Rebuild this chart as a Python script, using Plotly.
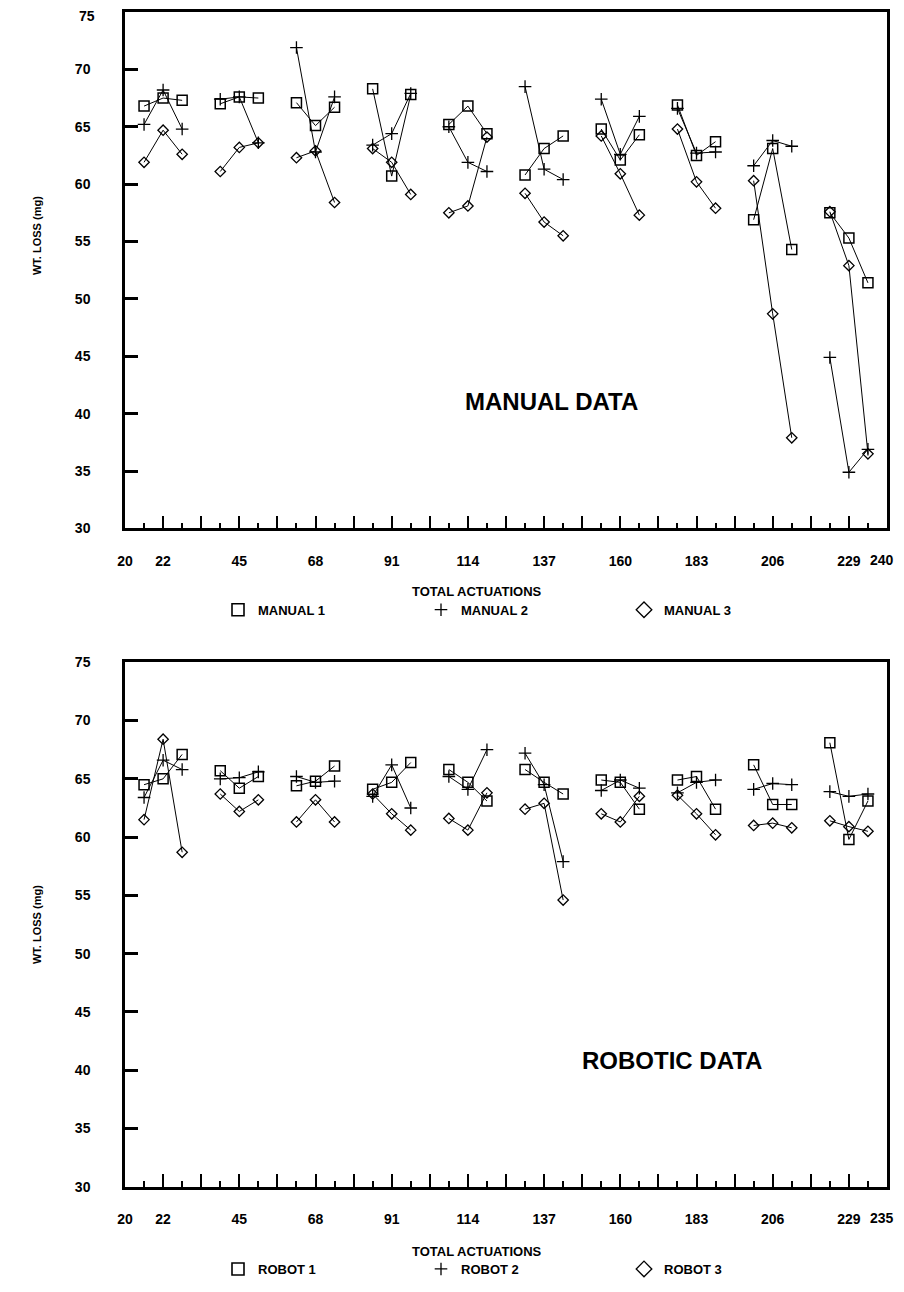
import plotly.graph_objects as go

# ---------------- data ----------------
GROUPS = [22, 45, 68, 91, 114, 137, 160, 183, 206, 229]
OFFSETS = [-5.75, 0, 5.75]

MANUAL_1 = [[66.8, 67.5, 67.3], [67.0, 67.6, 67.5], [67.1, 65.1, 66.7], [68.3, 60.7, 67.8],
            [65.2, 66.8, 64.4], [60.8, 63.1, 64.2], [64.8, 62.1, 64.3], [66.9, 62.5, 63.7],
            [56.9, 63.1, 54.3], [57.5, 55.3, 51.4]]
MANUAL_2 = [[65.2, 68.2, 64.8], [67.4, 67.6, 63.6], [71.9, 62.8, 67.6], [63.4, 64.4, 67.9],
            [65.0, 61.9, 61.1], [68.5, 61.3, 60.4], [67.4, 62.6, 65.9], [66.6, 62.7, 62.8],
            [61.6, 63.8, 63.3], [44.9, 34.9, 36.9]]
MANUAL_3 = [[61.9, 64.7, 62.6], [61.1, 63.2, 63.6], [62.3, 62.9, 58.4], [63.1, 61.9, 59.1],
            [57.5, 58.1, 64.1], [59.2, 56.7, 55.5], [64.2, 60.9, 57.3], [64.8, 60.2, 57.9],
            [60.3, 48.7, 37.9], [57.6, 52.9, 36.5]]

ROBOT_1 = [[64.5, 65.0, 67.1], [65.7, 64.2, 65.2], [64.4, 64.8, 66.1], [64.1, 64.7, 66.4],
           [65.8, 64.7, 63.1], [65.8, 64.7, 63.7], [64.9, 64.7, 62.4], [64.9, 65.2, 62.4],
           [66.2, 62.8, 62.8], [68.1, 59.8, 63.1]]
ROBOT_2 = [[63.4, 66.6, 65.8], [65.0, 65.1, 65.6], [65.2, 64.7, 64.8], [63.5, 66.2, 62.5],
           [65.2, 64.1, 67.5], [67.2, 64.5, 57.9], [64.0, 64.9, 64.2], [63.8, 64.7, 64.9],
           [64.1, 64.6, 64.5], [63.9, 63.5, 63.7]]
ROBOT_3 = [[61.5, 68.4, 58.7], [63.7, 62.2, 63.2], [61.3, 63.2, 61.3], [63.7, 62.0, 60.6],
           [61.6, 60.6, 63.8], [62.4, 62.9, 54.6], [62.0, 61.3, 63.5], [63.6, 62.0, 60.2],
           [61.0, 61.2, 60.8], [61.4, 60.9, 60.5]]

X_MIN, X_MAX = 10.5, 240.5
TOP_TICKTEXT = ["20"] + [str(g) for g in GROUPS] + ["240"]
BOT_TICKTEXT = ["20"] + [str(g) for g in GROUPS] + ["235"]
Y_TICKS = [30, 35, 40, 45, 50, 55, 60, 65, 70, 75]

# ---------------- geometry (page pixels; body margin of 8px) ----------------
BODY = 8
W, H = 904 - 2 * BODY, 1292 - 2 * BODY
PX_L, PX_R = 125, 887
TOP_T, TOP_B = 12, 533
BOT_T, BOT_B = 668, 1197


def px(x):
    return (x - BODY) / W


def py(y):
    return 1 - (y - BODY) / H


FONT = "Liberation Sans, Arial, Helvetica, sans-serif"


def series_xy(vals):
    xs, ys = [], []
    for g, trio in zip(GROUPS, vals):
        for o, v in zip(OFFSETS, trio):
            xs.append(g + o)
            ys.append(v)
        xs.append(None)
        ys.append(None)
    return xs, ys


STYLES = [
    dict(symbol="square-open", size=10, line=dict(width=1.5, color="black")),
    dict(symbol="cross-thin-open", size=9, line=dict(width=1.3, color="black")),
    dict(symbol="diamond-open", size=8, line=dict(width=1.3, color="black")),
]
LEG_STYLES = [
    dict(symbol="square-open", size=12, line=dict(width=1.6, color="black"), color="black"),
    dict(symbol="cross-thin-open", size=9, line=dict(width=1.3, color="black"), color="black"),
    dict(symbol="diamond-open", size=12, line=dict(width=1.3, color="black"), color="black"),
]

fig = go.Figure()

panels = [
    (["MANUAL 1", "MANUAL 2", "MANUAL 3"], [MANUAL_1, MANUAL_2, MANUAL_3], "x", "y", "legend"),
    (["ROBOT 1", "ROBOT 2", "ROBOT 3"], [ROBOT_1, ROBOT_2, ROBOT_3], "x2", "y2", "legend2"),
]
for names, sets, xa, ya, leg in panels:
    for name, vals, st, lst in zip(names, sets, STYLES, LEG_STYLES):
        xs, ys = series_xy(vals)
        fig.add_trace(go.Scatter(
            x=xs, y=ys, mode="lines+markers", xaxis=xa, yaxis=ya,
            line=dict(color="black", width=1),
            marker=dict(color="black", **st),
            showlegend=False, name=name, cliponaxis=False))
        fig.add_trace(go.Scatter(
            x=[None], y=[None], mode="markers", xaxis=xa, yaxis=ya,
            marker=lst, name=name, showlegend=True, legend=leg))

major_vals = [X_MIN] + GROUPS + [X_MAX]
tall_vals = [X_MIN + 11.5 * k for k in range(int(round((X_MAX - X_MIN) / 11.5)) + 1)]
minor_vals = [t + 5.75 for t in tall_vals[:-1]]
tick_vals = sorted(set(tall_vals) | set(major_vals))


def xaxis_cfg(ticktext, anchor):
    # the right-edge label is drawn as an annotation so it is not clipped
    labels = {v: t for v, t in zip(major_vals[:-1], ticktext[:-1])}
    return dict(
        range=[X_MIN, X_MAX], domain=[px(PX_L), px(PX_R)], anchor=anchor,
        tickmode="array", tickvals=tick_vals, ticktext=[labels.get(v, "") for v in tick_vals],
        ticks="inside", ticklen=13, tickwidth=2, tickcolor="black",
        minor=dict(tickmode="array", tickvals=minor_vals, ticks="inside", ticklen=6,
                   tickwidth=2, tickcolor="black", showgrid=False),
        showline=True, linecolor="black", linewidth=2.5, mirror=True,
        showgrid=False, zeroline=False, automargin=False,
        tickfont=dict(family=FONT, size=14, color="black", weight="bold"),
        ticklabelstandoff=18, ticklabeloverflow="allow",
    )


def yaxis_cfg(domain, anchor, hide_top=False):
    texts = [str(v) for v in Y_TICKS]
    if hide_top:
        # the top label sits at the page edge; it is drawn as an annotation instead
        texts[-1] = ""
    return dict(
        range=[30, 75], domain=domain, anchor=anchor,
        tickmode="array", tickvals=Y_TICKS, ticktext=texts,
        ticks="inside", ticklen=13, tickwidth=2.5, tickcolor="black",
        showline=True, linecolor="black", linewidth=2.5, mirror=True,
        showgrid=False, zeroline=False, automargin=False,
        tickfont=dict(family=FONT, size=14, color="black", weight="bold"),
        ticklabelstandoff=29, ticklabeloverflow="allow",
    )


annotations = []
for (txt, x, y, size, angle, xanchor, yanchor) in [
    ("MANUAL DATA", 551, 405, 24, 0, "center", "middle"),
    ("ROBOTIC DATA", 672, 1070, 24, 0, "center", "middle"),
    ("TOTAL ACTUATIONS", 477, 597, 13, 0, "center", "middle"),
    ("TOTAL ACTUATIONS", 477, 1262, 13, 0, "center", "middle"),
    ("WT. LOSS (mg)", 37, 238, 11, -90, "center", "middle"),
    ("WT. LOSS (mg)", 37, 933, 11, -90, "center", "middle"),
    (TOP_TICKTEXT[-1], 904 - BODY, 565, 14, 0, "right", "middle"),
    (BOT_TICKTEXT[-1], 904 - BODY, 1229, 14, 0, "right", "middle"),
    (str(Y_TICKS[-1]), 97, 6, 14, 0, "right", "top"),
]:
    annotations.append(dict(
        text=txt, x=px(x), y=py(y), xref="paper", yref="paper",
        xanchor=xanchor, yanchor=yanchor, showarrow=False, textangle=angle,
        font=dict(family=FONT, size=size, color="black", weight="bold")))


def legend_cfg(ycenter):
    return dict(
        orientation="h", x=px(218), y=py(ycenter), xanchor="left", yanchor="middle",
        entrywidth=158, entrywidthmode="pixels", bgcolor="rgba(0,0,0,0)",
        font=dict(family=FONT, size=13, color="black", weight="bold"),
        itemclick=False, itemdoubleclick=False, tracegroupgap=0,
    )


fig.update_layout(
    width=W, height=H, margin=dict(l=0, r=0, t=0, b=0),
    paper_bgcolor="white", plot_bgcolor="white",
    xaxis=xaxis_cfg(TOP_TICKTEXT, "y"),
    yaxis=yaxis_cfg([py(TOP_B), py(TOP_T)], "x", hide_top=True),
    xaxis2=xaxis_cfg(BOT_TICKTEXT, "y2"),
    yaxis2=yaxis_cfg([py(BOT_B), py(BOT_T)], "x2"),
    legend=legend_cfg(615),
    legend2=legend_cfg(1280),
    annotations=annotations,
    showlegend=True,
)

fig.write_html("out.html")
